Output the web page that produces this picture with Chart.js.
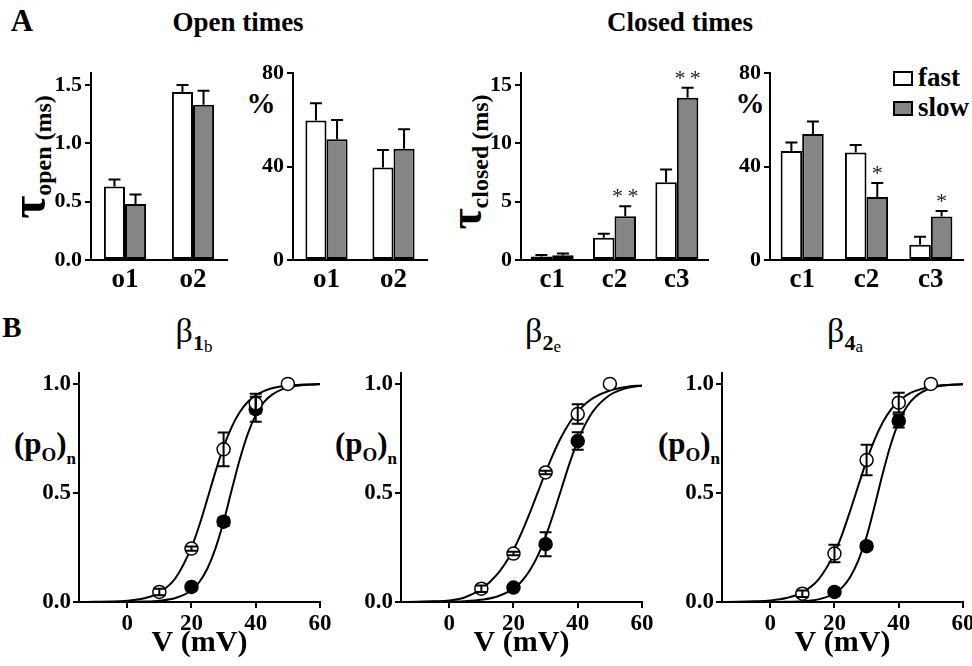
<!DOCTYPE html>
<html>
<head>
<meta charset="utf-8">
<title>Open and closed times</title>
<script src="https://cdn.jsdelivr.net/npm/chart.js@4.4.1/dist/chart.umd.min.js"></script>
<style>
  body { margin: 0; width: 972px; height: 666px; overflow: hidden; background: #fff; position: relative;
         font-family: 'Liberation Serif', 'Times New Roman', serif; font-weight: bold; color: #000; }
  canvas { position: absolute; }
  .txt { position: absolute; white-space: nowrap; line-height: 1; transform: translate(-50%, -50%); }
  .lt { position: absolute; white-space: nowrap; line-height: 1; transform: translate(0, -50%); }
  .rot { transform: translate(-50%, -50%) rotate(-90deg); }
  .box { position: absolute; width: 16px; height: 11px; border: 2px solid #000; }
  .sub { position: relative; }
</style>
</head>
<body>
<div class="txt" style="left:22px;top:20px;font-size:31px">A</div>
<div class="txt" style="left:238px;top:22px;font-size:27px">Open times</div>
<div class="txt" style="left:680px;top:22px;font-size:27px">Closed times</div>
<div class="txt" style="left:12px;top:327px;font-size:29px">B</div>

<div class="txt rot" style="left:28px;top:157px"><span style="font-size:50px">τ</span><span class="sub" style="font-size:24px;top:6px">open (ms)</span></div>
<div class="txt rot" style="left:466px;top:162px"><span style="font-size:46px">τ</span><span class="sub" style="font-size:24px;top:7px">closed (ms)</span></div>
<div class="txt" style="left:261px;top:103px;font-size:29px">%</div>
<div class="txt" style="left:750px;top:103px;font-size:29px">%</div>

<div class="box" style="left:893px;top:71px;background:#fff"></div>
<div class="lt" style="left:918px;top:77px;font-size:27px">fast</div>
<div class="box" style="left:893px;top:101px;background:#858585"></div>
<div class="lt" style="left:918px;top:107px;font-size:27px">slow</div>

<div class="txt" style="left:194px;top:331px"><span style="font-size:34px;font-weight:normal">β</span><span class="sub" style="font-size:22px;top:8px">1<span class="sub" style="font-size:17px;font-weight:normal;top:2px">b</span></span></div>
<div class="txt" style="left:543px;top:331px"><span style="font-size:34px;font-weight:normal">β</span><span class="sub" style="font-size:22px;top:8px">2<span class="sub" style="font-size:17px;font-weight:normal;top:2px">e</span></span></div>
<div class="txt" style="left:845px;top:331px"><span style="font-size:34px;font-weight:normal">β</span><span class="sub" style="font-size:22px;top:8px">4<span class="sub" style="font-size:17px;font-weight:normal;top:2px">a</span></span></div>

<div class="txt" style="left:45px;top:443px;font-size:31px">(p<span class="sub" style="font-size:19px;top:7px">O</span>)<span class="sub" style="font-size:17px;top:10px">n</span></div>
<div class="txt" style="left:366px;top:443px;font-size:31px">(p<span class="sub" style="font-size:19px;top:7px">O</span>)<span class="sub" style="font-size:17px;top:10px">n</span></div>
<div class="txt" style="left:689px;top:443px;font-size:31px">(p<span class="sub" style="font-size:19px;top:7px">O</span>)<span class="sub" style="font-size:17px;top:10px">n</span></div>

<canvas id="tauOpen"></canvas>
<canvas id="pctOpen"></canvas>
<canvas id="tauClosed"></canvas>
<canvas id="pctClosed"></canvas>
<canvas id="beta1b"></canvas>
<canvas id="beta2e"></canvas>
<canvas id="beta4a"></canvas>

<script>
// categories and tick labels
const openCats = ['o1', 'o2'];
const closedCats = ['c1', 'c2', 'c3'];
const tauOpenTicks = [0, 0.5, 1.0, 1.5];
const pctTicks = [0, 40, 80];
const tauClosedTicks = [0, 5, 10, 15];
const voltTicks = [0, 20, 40, 60];
const poTicks = [0, 0.5, 1.0];

// bar heights, and the top of each error bar
const tauOpenFast = [0.63, 1.44];
const tauOpenFastErr = [0.69, 1.50];
const tauOpenSlow = [0.48, 1.33];
const tauOpenSlowErr = [0.56, 1.45];

const pctOpenFast = [59.7, 39.6];
const pctOpenFastErr = [67.1, 47.1];
const pctOpenSlow = [51.7, 47.6];
const pctOpenSlowErr = [60.0, 56.0];

const tauClosedFast = [0.3, 1.9, 6.65];
const tauClosedFastErr = [0.42, 2.25, 7.75];
const tauClosedSlow = [0.4, 3.75, 13.9];
const tauClosedSlowErr = [0.55, 4.6, 14.75];
const tauClosedStars = ['', '**', '**'];

const pctClosedFast = [46.7, 46.0, 6.5];
const pctClosedFastErr = [50.3, 49.2, 10.0];
const pctClosedSlow = [54.0, 27.0, 18.6];
const pctClosedSlowErr = [59.3, 33.0, 21.0];
const pctClosedStars = ['', '*', '*'];

// normalised open probability vs voltage (mean, +/- error)
const volts = [10, 20, 30, 40, 50];
const blackVolts = [20, 30, 40];
const b1bWhite = [0.046, 0.245, 0.70, 0.91, 1.0];
const b1bWhiteErr = [0.015, 0.01, 0.077, 0.045, 0];
const b1bBlack = [0.069, 0.368, 0.884];
const b1bBlackErr = [0.01, 0.02, 0.057];
const b2eWhite = [0.061, 0.222, 0.594, 0.862, 1.0];
const b2eWhiteErr = [0.015, 0.008, 0.008, 0.045, 0];
const b2eBlack = [0.066, 0.265, 0.738];
const b2eBlackErr = [0.01, 0.055, 0.04];
const b4aWhite = [0.038, 0.222, 0.651, 0.914, 1.0];
const b4aWhiteErr = [0.015, 0.04, 0.07, 0.045, 0];
const b4aBlack = [0.046, 0.256, 0.83];
const b4aBlackErr = [0.01, 0.015, 0.03];

// fitted curves
const fitV = [-15, -10, -5, 0, 5, 10, 15, 20, 22.5, 25, 27.5, 30, 32.5, 35, 37.5, 40, 42.5, 45, 50, 55, 60];
const b1bWhiteFit = [0.000, 0.001, 0.002, 0.006, 0.016, 0.043, 0.109, 0.250, 0.354, 0.475, 0.599, 0.711, 0.802, 0.870, 0.917, 0.948, 0.967, 0.980, 0.993, 0.997, 0.999];
const b1bBlackFit = [0.000, 0.000, 0.000, 0.001, 0.002, 0.006, 0.018, 0.054, 0.093, 0.155, 0.247, 0.369, 0.512, 0.652, 0.770, 0.857, 0.915, 0.950, 0.984, 0.995, 0.998];
const b2eWhiteFit = [0.000, 0.001, 0.003, 0.007, 0.022, 0.060, 0.128, 0.240, 0.317, 0.405, 0.500, 0.595, 0.683, 0.760, 0.823, 0.872, 0.910, 0.937, 0.970, 0.986, 0.993];
const b2eBlackFit = [0.000, 0.000, 0.001, 0.002, 0.004, 0.010, 0.025, 0.061, 0.094, 0.143, 0.210, 0.300, 0.407, 0.523, 0.638, 0.739, 0.819, 0.879, 0.949, 0.980, 0.992];
const b4aWhiteFit = [0.000, 0.001, 0.003, 0.007, 0.018, 0.044, 0.103, 0.224, 0.315, 0.423, 0.537, 0.648, 0.745, 0.823, 0.881, 0.921, 0.949, 0.967, 0.987, 0.995, 0.998];
const b4aBlackFit = [0.000, 0.000, 0.000, 0.000, 0.001, 0.004, 0.012, 0.039, 0.068, 0.117, 0.193, 0.300, 0.440, 0.588, 0.721, 0.825, 0.895, 0.939, 0.981, 0.994, 0.998];

Chart.defaults.font.family = "'Liberation Serif', 'Times New Roman', serif";
Chart.defaults.font.weight = 'bold';
Chart.defaults.color = '#000';

const AXIS = { display: true, color: '#000', width: 2 };
const TICKMARKS = { display: true, drawOnChartArea: false, drawTicks: true, tickLength: 6, color: '#000', lineWidth: 2 };

// size and place a canvas so its chart area lands on the given page box
function placeCanvas(id, area, yW, xH, padTop, padRight) {
    const cv = document.getElementById(id);
    const left = area.left - yW;
    const top = area.top - padTop;
    const w = Math.round(area.right - left + padRight);
    const h = Math.round(area.bottom + xH - top);
    cv.style.left = left + 'px';
    cv.style.top = top + 'px';
    cv.width = w;
    cv.height = h;
    cv.style.width = w + 'px';
    cv.style.height = h + 'px';
    return cv;
}

// error bars (bars: up to a value; points: +/- value) and significance stars
const errorBars = {
    id: 'errorBars',
    afterDatasetsDraw(chart) {
        const ctx = chart.ctx;
        const ys = chart.scales.y;
        const isBar = chart.config.type === 'bar';
        ctx.save();
        ctx.strokeStyle = '#000';
        ctx.lineWidth = 2;
        chart.data.datasets.forEach((ds, i) => {
            if (!ds.err) return;
            chart.getDatasetMeta(i).data.forEach((el, j) => {
                let y0, y1;
                if (isBar) {
                    y0 = ys.getPixelForValue(ds.data[j]);
                    y1 = ys.getPixelForValue(ds.err[j]);
                } else {
                    if (!ds.err[j]) return;
                    y0 = ys.getPixelForValue(ds.data[j].y - ds.err[j]);
                    y1 = ys.getPixelForValue(ds.data[j].y + ds.err[j]);
                }
                const x = el.x;
                ctx.beginPath();
                ctx.moveTo(x, y0);
                ctx.lineTo(x, y1);
                ctx.moveTo(x - 6, y1);
                ctx.lineTo(x + 6, y1);
                if (!isBar) {
                    ctx.moveTo(x - 6, y0);
                    ctx.lineTo(x + 6, y0);
                }
                ctx.stroke();
                if (ds.stars && ds.stars[j]) {
                    ctx.fillStyle = '#222';
                    ctx.font = "22px 'Liberation Serif'";
                    ctx.textAlign = 'center';
                    ctx.textBaseline = 'middle';
                    ctx.fillText(ds.stars[j].split('').join('\u2009'), x, y1 - 9);
                }
            });
        });
        ctx.restore();
    }
};

function barChart(id, area, cats, fast, fastErr, slow, slowErr, ticks, yMax, dec, stars, catPct) {
    const yW = 60, xH = 40, padTop = 16, padRight = 8;
    const cv = placeCanvas(id, area, yW, xH, padTop, padRight);
    return new Chart(cv, {
        type: 'bar',
        data: {
            labels: cats,
            datasets: [{
                label: 'fast',
                data: fast,
                err: fastErr,
                backgroundColor: '#fff',
                borderColor: '#000',
                borderWidth: 2,
                borderSkipped: false
            },
            {
                label: 'slow',
                data: slow,
                err: slowErr,
                stars: stars,
                backgroundColor: '#858585',
                borderColor: '#000',
                borderWidth: 2,
                borderSkipped: false
            }]
        },
        options: {
            responsive: false,
            animation: false,
            events: [],
            layout: { padding: { top: padTop, right: padRight, left: 0, bottom: 0 } },
            plugins: { legend: { display: false }, tooltip: { enabled: false } },
            datasets: { bar: { barPercentage: 1, categoryPercentage: catPct } },
            scales: {
                x: {
                    grid: { display: false, drawTicks: false },
                    border: AXIS,
                    ticks: { font: { size: 27 }, padding: 4 },
                    afterFit: s => { s.height = xH; }
                },
                y: {
                    min: 0,
                    max: yMax,
                    grid: TICKMARKS,
                    border: AXIS,
                    ticks: { font: { size: 22 }, padding: 3, callback: v => v.toFixed(dec) },
                    afterBuildTicks: s => { s.ticks = ticks.map(v => ({ value: v })); },
                    afterFit: s => { s.width = yW; }
                }
            }
        },
        plugins: [errorBars]
    });
}

function voltChart(id, area, white, whiteErr, black, blackErr, whiteFit, blackFit) {
    const yW = 70, xH = 62, padTop = 16, padRight = 16;
    const cv = placeCanvas(id, area, yW, xH, padTop, padRight);
    const pts = (xs, ys) => xs.map((v, i) => ({ x: v, y: ys[i] }));
    const curve = vals => ({
        data: pts(fitV, vals),
        showLine: true,
        pointRadius: 0,
        borderColor: '#000',
        borderWidth: 2,
        cubicInterpolationMode: 'monotone',
        order: 2
    });
    return new Chart(cv, {
        type: 'scatter',
        data: {
            datasets: [{
                data: pts(volts, white),
                err: whiteErr,
                pointRadius: 6.5,
                pointBorderWidth: 1.5,
                pointBackgroundColor: '#fff',
                pointBorderColor: '#000',
                order: 0
            },
            {
                data: pts(blackVolts, black),
                err: blackErr,
                pointRadius: 6.5,
                pointBorderWidth: 1.5,
                pointBackgroundColor: '#000',
                pointBorderColor: '#000',
                order: 1
            },
            curve(whiteFit),
            curve(blackFit)]
        },
        options: {
            responsive: false,
            animation: false,
            events: [],
            layout: { padding: { top: padTop, right: padRight, left: 0, bottom: 0 } },
            plugins: { legend: { display: false }, tooltip: { enabled: false } },
            scales: {
                x: {
                    type: 'linear',
                    min: -15,
                    max: 60,
                    grid: TICKMARKS,
                    border: AXIS,
                    ticks: { font: { size: 23 }, padding: 2 },
                    title: { display: true, text: 'V (mV)', font: { size: 30 }, padding: { top: 0, bottom: 3 } },
                    afterBuildTicks: s => { s.ticks = voltTicks.map(v => ({ value: v })); },
                    afterFit: s => { s.height = xH; }
                },
                y: {
                    min: 0,
                    max: 1.05,
                    grid: TICKMARKS,
                    border: AXIS,
                    ticks: { font: { size: 23 }, padding: 2, callback: v => v.toFixed(1) },
                    afterBuildTicks: s => { s.ticks = poTicks.map(v => ({ value: v })); },
                    afterFit: s => { s.width = yW; }
                }
            }
        },
        plugins: [errorBars]
    });
}

barChart('tauOpen', { left: 91, right: 227, top: 73.3, bottom: 260 }, openCats,
    tauOpenFast, tauOpenFastErr, tauOpenSlow, tauOpenSlowErr, tauOpenTicks, 1.6, 1, null, 0.62);
barChart('pctOpen', { left: 293, right: 427, top: 73.3, bottom: 260 }, openCats,
    pctOpenFast, pctOpenFastErr, pctOpenSlow, pctOpenSlowErr, pctTicks, 80, 0, null, 0.63);
barChart('tauClosed', { left: 521, right: 708, top: 73.3, bottom: 260 }, closedCats,
    tauClosedFast, tauClosedFastErr, tauClosedSlow, tauClosedSlowErr, tauClosedTicks, 16, 0, tauClosedStars, 0.69);
barChart('pctClosed', { left: 770, right: 963, top: 73.3, bottom: 260 }, closedCats,
    pctClosedFast, pctClosedFastErr, pctClosedSlow, pctClosedSlowErr, pctTicks, 80, 0, pctClosedStars, 0.67);

voltChart('beta1b', { left: 79, right: 320, top: 373, bottom: 601.7 },
    b1bWhite, b1bWhiteErr, b1bBlack, b1bBlackErr, b1bWhiteFit, b1bBlackFit);
voltChart('beta2e', { left: 401, right: 642, top: 373, bottom: 601.7 },
    b2eWhite, b2eWhiteErr, b2eBlack, b2eBlackErr, b2eWhiteFit, b2eBlackFit);
voltChart('beta4a', { left: 722, right: 963, top: 373, bottom: 601.7 },
    b4aWhite, b4aWhiteErr, b4aBlack, b4aBlackErr, b4aWhiteFit, b4aBlackFit);
</script>
</body>
</html>
